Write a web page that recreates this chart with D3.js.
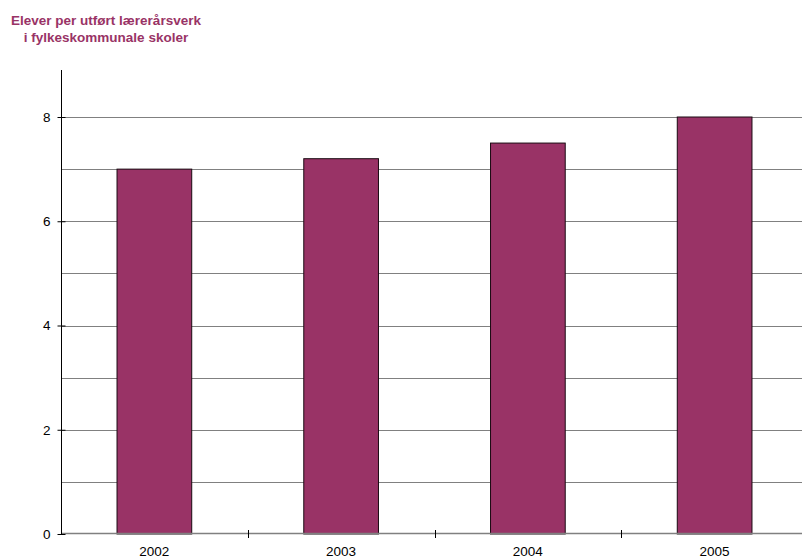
<!DOCTYPE html>
<html>
<head>
<meta charset="utf-8">
<script src="https://cdn.jsdelivr.net/npm/d3@7"></script>
<style>
  body { margin: 0; background: #fff; }
  svg { font-family: "Liberation Sans", Arial, sans-serif; }
</style>
</head>
<body>
<div id="chart"></div>
<script>
const years = ["2002", "2003", "2004", "2005"];
const values = [7.0, 7.2, 7.5, 8.0];
const yTicks = [0, 2, 4, 6, 8];
const gridValues = [1, 2, 3, 4, 5, 6, 7, 8];
const titleLines = ["Elever per utført lærerårsverk", "i fylkeskommunale skoler"];

const W = 802, H = 558;
const PLOT = { LEFT: 61, TOP: 70, BOTTOM: 534, RIGHT: 808 };
const BAR_COLOR = "#993366";

const svg = d3.select("#chart").append("svg")
    .attr("width", W)
    .attr("height", H);

const x = d3.scaleBand()
    .domain(years)
    .range([PLOT.LEFT, PLOT.RIGHT])
    .paddingInner(0.6)
    .paddingOuter(0.3);

const y = d3.scaleLinear()
    .domain([0, 8])
    .range([PLOT.BOTTOM, 117]);

// title
svg.append("text")
    .attr("text-anchor", "middle")
    .attr("fill", BAR_COLOR)
    .style("font-size", "13.5px")
    .style("font-weight", "bold")
    .selectAll("tspan")
    .data(titleLines)
    .enter()
    .append("tspan")
    .attr("x", 106)
    .attr("y", (d, i) => i === 0 ? 25 : 42)
    .text(d => d);

// gridlines
svg.append("g")
    .selectAll("line")
    .data(gridValues)
    .enter()
    .append("line")
    .attr("x1", PLOT.LEFT)
    .attr("x2", W)
    .attr("y1", d => Math.round(y(d)) + 0.5)
    .attr("y2", d => Math.round(y(d)) + 0.5)
    .attr("stroke", "#808080")
    .attr("stroke-width", 1);

// bars
svg.append("g")
    .selectAll("rect")
    .data(years)
    .enter()
    .append("rect")
    .attr("x", d => x(d))
    .attr("y", (d, i) => y(values[i]))
    .attr("width", x.bandwidth())
    .attr("height", (d, i) => y(0) - y(values[i]))
    .attr("fill", BAR_COLOR)
    .attr("stroke", "#1a0a12")
    .attr("stroke-width", 1);

// baseline
svg.append("line")
    .attr("x1", PLOT.LEFT)
    .attr("x2", W)
    .attr("y1", y(0) - 0.5)
    .attr("y2", y(0) - 0.5)
    .attr("stroke", "#808080")
    .attr("stroke-width", 1.5);

// y axis
const yAxis = svg.append("g")
    .attr("transform", `translate(${PLOT.LEFT + 0.5}, 0)`)
    .call(d3.axisLeft(y).tickValues(yTicks).tickSize(4).tickPadding(6).tickSizeOuter(0));
yAxis.select(".domain").remove();
yAxis.selectAll(".tick line").attr("x2", 4).attr("x1", -4).attr("stroke", "#000");
yAxis.selectAll("text")
    .style("font-size", "13.5px")
    .style("font-family", "Liberation Sans, Arial, sans-serif")
    .attr("fill", "#000")
    .attr("x", -11);

svg.append("line")
    .attr("x1", PLOT.LEFT + 0.5)
    .attr("x2", PLOT.LEFT + 0.5)
    .attr("y1", PLOT.TOP)
    .attr("y2", y(0))
    .attr("stroke", "#000")
    .attr("stroke-width", 1);

// x tick marks between categories
const step = x.step();
const boundaries = years.map(d => x(d) - x.paddingOuter() * step).slice(1);
svg.append("g")
    .selectAll("line")
    .data(boundaries)
    .enter()
    .append("line")
    .attr("x1", d => Math.round(d) + 0.5)
    .attr("x2", d => Math.round(d) + 0.5)
    .attr("y1", y(0) - 4)
    .attr("y2", y(0) + 4)
    .attr("stroke", "#000");

// x labels
svg.append("g")
    .selectAll("text")
    .data(years)
    .enter()
    .append("text")
    .attr("x", d => x(d) + x.bandwidth() / 2)
    .attr("y", 556)
    .attr("text-anchor", "middle")
    .style("font-size", "13.5px")
    .attr("fill", "#000")
    .text(d => d);
</script>
</body>
</html>
